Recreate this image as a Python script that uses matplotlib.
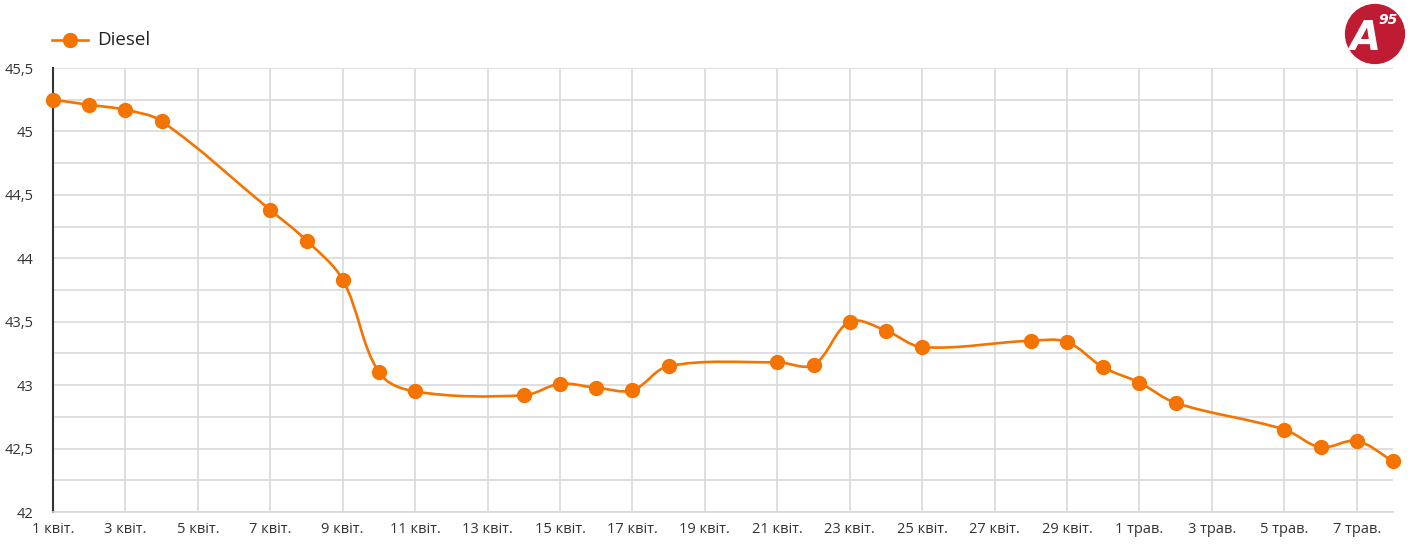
import numpy as np
import matplotlib
matplotlib.use('Agg')
import matplotlib.pyplot as plt
from matplotlib.path import Path
from matplotlib.patches import PathPatch, Circle

plt.rcParams['font.family'] = ['Open Sans', 'DejaVu Sans']

# day index from 1 april
days = [0, 1, 2, 3, 6, 7, 8, 9, 10, 13, 14, 15, 16, 17, 20, 21, 22, 23, 24,
        27, 28, 29, 30, 31, 34, 35, 36, 37]
diesel = [45.25, 45.21, 45.17, 45.08, 44.38, 44.14, 43.83, 43.10, 42.95,
          42.92, 43.01, 42.98, 42.96, 43.15, 43.18, 43.16, 43.50, 43.43,
          43.30, 43.35, 43.34, 43.14, 43.02, 42.86, 42.65, 42.51, 42.56, 42.40]

tick_days = list(range(0, 37, 2))
tick_labels = [f'{d} квіт.' for d in range(1, 30, 2)] + \
              [f'{d} трав.' for d in range(1, 8, 2)]
y_ticks = [42, 42.5, 43, 43.5, 44, 44.5, 45, 45.5]
y_labels = ['42', '42,5', '43', '43,5', '44', '44,5', '45', '45,5']

orange = '#f57300'
X0, X1, Y0, Y1 = 0, 37, 42, 45.5
AX_W, AX_H = 1340, 444


def spline_path(x, y, t=0.35):
    # chart.js-like tension spline, computed in pixel space
    sx = AX_W / (X1 - X0)
    sy = AX_H / (Y1 - Y0)
    p = np.column_stack([np.asarray(x, float) * sx, np.asarray(y, float) * sy])
    n = len(p)
    cp_prev = p.copy()
    cp_next = p.copy()
    for i in range(n):
        a = p[i - 1] if i > 0 else p[i]
        c = p[i + 1] if i < n - 1 else p[i]
        d01 = np.hypot(*(p[i] - a))
        d12 = np.hypot(*(c - p[i]))
        tot = d01 + d12
        s01 = d01 / tot if tot else 0
        s12 = d12 / tot if tot else 0
        cp_prev[i] = p[i] - t * s01 * (c - a)
        cp_next[i] = p[i] + t * s12 * (c - a)
    for arr in (cp_prev, cp_next):
        arr[:, 0] = np.clip(arr[:, 0], X0 * sx, X1 * sx)
        arr[:, 1] = np.clip(arr[:, 1], Y0 * sy, Y1 * sy)
    scale = np.array([sx, sy])
    verts = [tuple(p[0] / scale)]
    codes = [Path.MOVETO]
    for i in range(n - 1):
        verts += [tuple(cp_next[i] / scale), tuple(cp_prev[i + 1] / scale),
                  tuple(p[i + 1] / scale)]
        codes += [Path.CURVE4] * 3
    return Path(verts, codes)


fig = plt.figure(figsize=(14.25, 5.52), dpi=100)
ax = fig.add_axes([53 / 1425, 40 / 552, AX_W / 1425, AX_H / 552])

ax.add_patch(PathPatch(spline_path(days, diesel), fill=False,
                       edgecolor=orange, lw=1.9, zorder=3))
ax.plot(days, diesel, 'o', color=orange, markersize=10, zorder=4, clip_on=False)

ax.set_xlim(X0, X1)
ax.set_ylim(Y0, Y1)
ax.set_xticks(tick_days)
ax.set_xticklabels(tick_labels)
ax.set_yticks(y_ticks)
ax.set_yticklabels(y_labels)
ax.set_yticks(np.arange(42, 45.51, 0.25), minor=True)

ax.grid(True, which='both', color='#d9d9d9', lw=1.2)
ax.set_axisbelow(True)
ax.tick_params(length=0, labelsize=10.5, colors='#333333')
ax.tick_params(axis='x', pad=7)
ax.tick_params(axis='y', pad=14)
ax.tick_params(which='minor', length=0)
for s in ['top', 'right']:
    ax.spines[s].set_visible(False)
ax.spines['bottom'].set_color('#d9d9d9')
ax.spines['bottom'].set_linewidth(1.2)
ax.spines['left'].set_color('#333333')
ax.spines['left'].set_linewidth(1.5)

# legend
fig.lines.append(plt.Line2D([52 / 1425, 88 / 1425], [512 / 552, 512 / 552],
                            transform=fig.transFigure, color=orange, lw=1.9))
fig.lines.append(plt.Line2D([70 / 1425], [512 / 552], transform=fig.transFigure,
                            marker='o', color=orange, markersize=10))
fig.text(97 / 1425, 512 / 552, 'Diesel', fontsize=13.5, color='#222222',
         va='center', ha='left')

# logo
lax = fig.add_axes([1343 / 1425, (552 - 66) / 552, 64 / 1425, 64 / 552])
lax.set_xlim(-1, 1)
lax.set_ylim(-1, 1)
lax.set_aspect('equal')
lax.axis('off')
lax.add_patch(Circle((0, 0), 0.92, color='#bf1b32'))
lax.text(-0.3, -0.15, 'A', fontsize=29, fontweight='bold', fontstyle='italic',
         color='white', ha='center', va='center', family='DejaVu Sans')
lax.text(0.42, 0.45, '95', fontsize=10, fontweight='bold', fontstyle='italic',
         color='white', ha='center', va='center', family='DejaVu Sans')

fig.savefig('out.png', dpi=100)
